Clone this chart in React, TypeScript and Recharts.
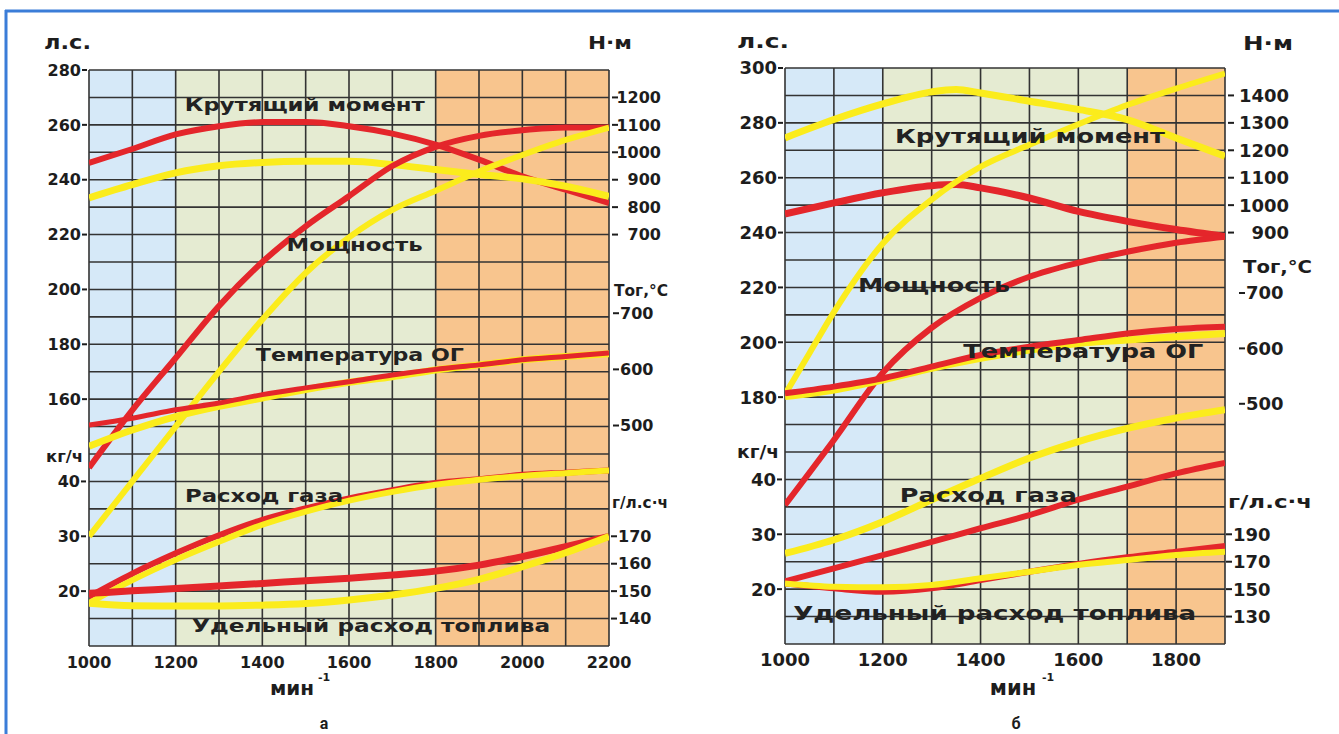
import React from "react";
import {
  LineChart,
  Line,
  XAxis,
  YAxis,
  CartesianGrid,
  ReferenceDot,
} from "recharts";

const RED = "#e4262b";
const YELLOW = "#fbec1c";
const BLUE_BAND = "#d6e9f8";
const GREEN_BAND = "#e5ebd2";
const ORANGE_BAND = "#f8c58e";
const GRID = "#333333";
const INK = "#1d1d1d";
const FRAME = "#3b7dd8";
const FONT = "'DejaVu Sans', Verdana, sans-serif";

// ---------- а: 1000–2200 мин-1 ----------
const rpmA = [1000, 1100, 1200, 1300, 1400, 1500, 1600, 1700, 1800, 1900, 2000, 2100, 2200];
const torqueRedA = [961, 1012, 1065, 1095, 1110, 1110, 1095, 1068, 1028, 973, 912, 864, 815];
const torqueYellowA = [834, 882, 925, 951, 963, 967, 967, 955, 937, 919, 903, 876, 839];
const powerRedA = [135, 156, 175, 194, 210, 223, 234, 245, 252, 256, 258, 259, 259];
const powerYellowA = [110, 130, 150, 170, 189, 206, 219, 229, 236, 243, 249, 254.5, 259];
const tempRedA = [501, 513, 528, 540, 555, 567, 578, 590, 600, 608, 617, 623, 629];
const tempYellowA = [463, 492, 516, 534, 549, 564, 577, 587, 599, 608, 617, 623, 628];
const gasRedA = [19.0, 23.2, 26.9, 30.2, 33.0, 35.1, 36.9, 38.4, 39.7, 40.4, 41.2, 41.6, 42.0];
const gasYellowA = [17.8, 22.0, 25.7, 29.0, 32.1, 34.5, 36.5, 38.1, 39.4, 40.3, 41.0, 41.5, 42.0];
const sfcRedA = [149.2, 150.1, 151, 151.9, 152.8, 153.8, 154.7, 155.9, 157.3, 159.5, 162.6, 166.2, 169.9];
const sfcYellowA = [145.6, 144.7, 144.6, 144.6, 144.9, 145.5, 146.8, 148.6, 151, 154.3, 158.9, 164, 169.9];

const gridHpA = [70, 80, 90, 100, 110, 120, 130, 140, 150, 160, 170, 180, 190, 200, 210, 220, 230, 240, 250, 260, 270, 280];
const hpLabelsA = [160, 180, 200, 220, 240, 260, 280];
const kgLabelsA = [20, 30, 40];
const nmLabelsA = [700, 800, 900, 1000, 1100, 1200];
const tLabelsA = [500, 600, 700];
const gLabelsA = [140, 150, 160, 170];
const xTicksA = [1000, 1100, 1200, 1300, 1400, 1500, 1600, 1700, 1800, 1900, 2000, 2100, 2200];
const xLabelsA = [1000, 1200, 1400, 1600, 1800, 2000, 2200];
const bandsA = [BLUE_BAND, BLUE_BAND, GREEN_BAND, GREEN_BAND, GREEN_BAND, GREEN_BAND, GREEN_BAND, GREEN_BAND, ORANGE_BAND, ORANGE_BAND, ORANGE_BAND, ORANGE_BAND];

// ---------- б: 1000–1900 мин-1 ----------
const rpmB = [1000, 1100, 1200, 1300, 1400, 1500, 1600, 1700, 1800, 1900];
const rpmTorqueB = [1000, 1100, 1200, 1300, 1350, 1400, 1500, 1600, 1700, 1800, 1900];
const rpmPowerYellowB = [1000, 1050, 1100, 1200, 1300, 1400, 1500, 1600, 1700, 1800, 1900];
const torqueYellowB = [1245, 1312, 1369, 1413, 1422, 1409, 1379, 1349, 1312, 1245, 1178];
const torqueRedB = [968, 1008, 1045, 1071, 1075, 1063, 1026, 977, 941, 911, 886];
const powerRedB = [140.7, 164.4, 188.9, 205.3, 216.2, 223.9, 229, 233, 236.3, 238.5];
const powerYellowB = [181, 196, 211, 236, 252, 264, 272, 279.5, 286.5, 292.5, 298];
const tempRedB = [519, 531, 546, 567, 588, 603, 615, 627, 635, 639];
const tempYellowB = [513, 525, 543, 564, 582, 597, 609, 615, 621, 627];
const gasRedB = [21.4, 23.8, 26.2, 28.6, 31.1, 33.5, 36.3, 38.7, 41.1, 43.0];
const gasYellowB = [26.5, 29.0, 32.3, 36.3, 40.2, 43.9, 46.9, 49.3, 51.2, 52.7];
const sfcRedB = [154.2, 150.6, 148.1, 150.6, 156.6, 162.7, 168.3, 173.2, 177.3, 181.5];
const sfcYellowB = [154.2, 151.8, 151.3, 153, 157.9, 162.7, 167.6, 171.2, 174.9, 177.3];

const gridHpB = [90, 100, 110, 120, 130, 140, 150, 160, 170, 180, 190, 200, 210, 220, 230, 240, 250, 260, 270, 280, 290, 300];
const hpLabelsB = [180, 200, 220, 240, 260, 280, 300];
const kgLabelsB = [20, 30, 40];
const nmLabelsB = [900, 1000, 1100, 1200, 1300, 1400];
const tLabelsB = [500, 600, 700];
const gLabelsB = [130, 150, 170, 190];
const xTicksB = [1000, 1100, 1200, 1300, 1400, 1500, 1600, 1700, 1800, 1900];
const xLabelsB = [1000, 1200, 1400, 1600, 1800];
const bandsB = [BLUE_BAND, BLUE_BAND, GREEN_BAND, GREEN_BAND, GREEN_BAND, GREEN_BAND, GREEN_BAND, ORANGE_BAND, ORANGE_BAND];

const pts = (xs: number[], ys: number[]) => xs.map((rpm, i) => ({ rpm, v: ys[i] }));

const txt = (fs: number): React.CSSProperties => ({
  fontFamily: FONT,
  fontWeight: 700,
  fontSize: fs,
  fill: INK,
});

// подписи слева: "280-"
const leftTick = (labels: number[], fs: number) => (p: any) => {
  const v = p.payload.value;
  if (!labels.includes(v)) return <g />;
  return (
    <g>
      <text x={p.x - 8} y={p.y} dy="0.36em" textAnchor="end" style={txt(fs)}>
        {v}
      </text>
      <line x1={p.x - 7} x2={p.x - 2} y1={p.y} y2={p.y} stroke={INK} strokeWidth={2} />
    </g>
  );
};

// подписи справа: "-1200"
const rightTick =
  (labels: number[], fs: number, d0: number, d1: number, tx: number, anchor: "start" | "end") =>
  (p: any) => {
    const v = p.payload.value;
    if (!labels.includes(v)) return <g />;
    return (
      <g>
        <line x1={p.x + d0} x2={p.x + d1} y1={p.y} y2={p.y} stroke={INK} strokeWidth={2} />
        <text x={p.x + tx} y={p.y} dy="0.36em" textAnchor={anchor} style={txt(fs)}>
          {v}
        </text>
      </g>
    );
  };

const bottomTick = (labels: number[], fs: number) => (p: any) => {
  const v = p.payload.value;
  if (!labels.includes(v)) return <g />;
  return (
    <text x={p.x} y={p.y + 16} dy="0.36em" textAnchor="middle" style={txt(fs)}>
      {v}
    </text>
  );
};

const anno = (text: string, len: number, fs: number) => (p: any) => {
  const vb = p.viewBox || {};
  return (
    <text
      x={vb.x}
      y={vb.y}
      dy="0.36em"
      textAnchor="middle"
      textLength={len}
      lengthAdjust="spacingAndGlyphs"
      style={{ ...txt(fs), fill: "#222" }}
    >
      {text}
    </text>
  );
};

type Series = { data: { rpm: number; v: number }[]; axis: string; color: string; width: number };
type Note = { text: string; rpm: number; hp: number; len: number };

type PanelCfg = {
  width: number;
  height: number;
  margin: { top: number; right: number; bottom: number; left: number };
  xDomain: [number, number];
  xTicks: number[];
  xLabels: number[];
  bands: string[];
  hpDomain: [number, number];
  gridHp: number[];
  hpLabels: number[];
  kgDomain: [number, number];
  kgLabels: number[];
  nmDomain: [number, number];
  nmLabels: number[];
  nmTextX: number;
  tDomain: [number, number];
  tLabels: number[];
  tDash: [number, number, number];
  gDomain: [number, number];
  gLabels: number[];
  gDash: [number, number, number];
  fs: number;
  noteFs: number;
  series: Series[];
  notes: Note[];
};

// each axis reserves 1px: two on the left, three on the right, one below
const panelA: PanelCfg = {
  width: 680,
  height: 734,
  margin: { top: 70, right: 68, bottom: 87, left: 87 },
  xDomain: [1000, 2200],
  xTicks: xTicksA,
  xLabels: xLabelsA,
  bands: bandsA,
  hpDomain: [70, 280],
  gridHp: gridHpA,
  hpLabels: hpLabelsA,
  kgDomain: [10, 115],
  kgLabels: kgLabelsA,
  nmDomain: [-800, 1300],
  nmLabels: nmLabelsA,
  nmTextX: 51,
  tDomain: [107.3, 1133.2],
  tLabels: tLabelsA,
  tDash: [2, 8, 9],
  gDomain: [130, 340],
  gLabels: gLabelsA,
  gDash: [2, 8, 9],
  fs: 16,
  noteFs: 18,
  series: [
    { data: pts(rpmA, torqueRedA), axis: "nm", color: RED, width: 6 },
    { data: pts(rpmA, torqueYellowA), axis: "nm", color: YELLOW, width: 7 },
    { data: pts(rpmA, powerRedA), axis: "hp", color: RED, width: 6 },
    { data: pts(rpmA, powerYellowA), axis: "hp", color: YELLOW, width: 6 },
    { data: pts(rpmA, gasRedA), axis: "kg", color: RED, width: 6 },
    { data: pts(rpmA, gasYellowA), axis: "kg", color: YELLOW, width: 6 },
    { data: pts(rpmA, sfcRedA), axis: "g", color: RED, width: 7 },
    { data: pts(rpmA, sfcYellowA), axis: "g", color: YELLOW, width: 7 },
    { data: pts(rpmA, tempYellowA), axis: "t", color: YELLOW, width: 7 },
    { data: pts(rpmA, tempRedA), axis: "t", color: RED, width: 5 },
  ],
  notes: [
    { text: "Крутящий момент", rpm: 1498, hp: 267.4, len: 240 },
    { text: "Мощность", rpm: 1613, hp: 216.3, len: 136 },
    { text: "Температура ОГ", rpm: 1625, hp: 176.2, len: 208 },
    { text: "Расход газа", rpm: 1404, hp: 125, len: 158 },
    { text: "Удельный расход топлива", rpm: 1651, hp: 77.3, len: 358 },
  ],
};

const panelB: PanelCfg = {
  width: 659,
  height: 734,
  margin: { top: 68, right: 111, bottom: 89, left: 103 },
  xDomain: [1000, 1900],
  xTicks: xTicksB,
  xLabels: xLabelsB,
  bands: bandsB,
  hpDomain: [90, 300],
  gridHp: gridHpB,
  hpLabels: hpLabelsB,
  kgDomain: [10, 115],
  kgLabels: kgLabelsB,
  nmDomain: [-600, 1500],
  nmLabels: nmLabelsB,
  nmTextX: 63,
  tDomain: [66.4, 1106.1],
  tLabels: tLabelsB,
  tDash: [12, 18, 19],
  gDomain: [110, 530],
  gLabels: gLabelsB,
  gDash: [1, 7, 8],
  fs: 18,
  noteFs: 19,
  series: [
    { data: pts(rpmTorqueB, torqueRedB), axis: "nm", color: RED, width: 7 },
    { data: pts(rpmTorqueB, torqueYellowB), axis: "nm", color: YELLOW, width: 7 },
    { data: pts(rpmB, powerRedB), axis: "hp", color: RED, width: 6 },
    { data: pts(rpmPowerYellowB, powerYellowB), axis: "hp", color: YELLOW, width: 6 },
    { data: pts(rpmB, gasYellowB), axis: "kg", color: YELLOW, width: 7 },
    { data: pts(rpmB, gasRedB), axis: "kg", color: RED, width: 6 },
    { data: pts(rpmB, sfcRedB), axis: "g", color: RED, width: 6 },
    { data: pts(rpmB, sfcYellowB), axis: "g", color: YELLOW, width: 6 },
    { data: pts(rpmB, tempYellowB), axis: "t", color: YELLOW, width: 7 },
    { data: pts(rpmB, tempRedB), axis: "t", color: RED, width: 6 },
  ],
  notes: [
    { text: "Крутящий момент", rpm: 1501, hp: 275, len: 270 },
    { text: "Мощность", rpm: 1305, hp: 221, len: 152 },
    { text: "Температура ОГ", rpm: 1610, hp: 196.7, len: 240 },
    { text: "Расход газа", rpm: 1416, hp: 144.3, len: 177 },
    { text: "Удельный расход топлива", rpm: 1429, hp: 101.2, len: 403 },
  ],
};

function Panel({ cfg }: { cfg: PanelCfg }) {
  const axisCommon = {
    width: 1,
    tickSize: 0,
    tickMargin: 0,
    axisLine: false,
    tickLine: false,
    allowDataOverflow: true,
    type: "number" as const,
    interval: 0 as const,
  };
  return (
    <LineChart width={cfg.width} height={cfg.height} margin={cfg.margin}>
      <CartesianGrid
        yAxisId="hp"
        stroke={GRID}
        strokeWidth={1.6}
        verticalFill={cfg.bands}
        fillOpacity={1}
      />
      <XAxis
        dataKey="rpm"
        type="number"
        domain={cfg.xDomain}
        ticks={cfg.xTicks}
        interval={0}
        height={1}
        tickSize={0}
        tickMargin={0}
        axisLine={false}
        tickLine={false}
        allowDataOverflow
        tick={bottomTick(cfg.xLabels, cfg.fs)}
      />
      <YAxis yAxisId="hp" orientation="left" domain={cfg.hpDomain} ticks={cfg.gridHp} tick={leftTick(cfg.hpLabels, cfg.fs)} {...axisCommon} />
      <YAxis yAxisId="kg" orientation="left" domain={cfg.kgDomain} ticks={cfg.kgLabels} tick={leftTick(cfg.kgLabels, cfg.fs)} {...axisCommon} />
      <YAxis
        yAxisId="nm"
        orientation="right"
        domain={cfg.nmDomain}
        ticks={cfg.nmLabels}
        tick={rightTick(cfg.nmLabels, cfg.fs, 2, 8, cfg.nmTextX, "end")}
        {...axisCommon}
      />
      <YAxis
        yAxisId="t"
        orientation="right"
        domain={cfg.tDomain}
        ticks={cfg.tLabels}
        tick={rightTick(cfg.tLabels, cfg.fs, cfg.tDash[0], cfg.tDash[1], cfg.tDash[2], "start")}
        {...axisCommon}
      />
      <YAxis
        yAxisId="g"
        orientation="right"
        domain={cfg.gDomain}
        ticks={cfg.gLabels}
        tick={rightTick(cfg.gLabels, cfg.fs, cfg.gDash[0], cfg.gDash[1], cfg.gDash[2], "start")}
        {...axisCommon}
      />
      {cfg.series.map((s, i) => (
        <Line
          key={i}
          data={s.data}
          dataKey="v"
          yAxisId={s.axis}
          type="monotone"
          stroke={s.color}
          strokeWidth={s.width}
          dot={false}
          activeDot={false}
          isAnimationActive={false}
        />
      ))}
      {cfg.notes.map((n) => (
        <ReferenceDot
          key={n.text}
          x={n.rpm}
          y={n.hp}
          yAxisId="hp"
          r={0}
          fill="none"
          stroke="none"
          label={anno(n.text, n.len, cfg.noteFs)}
        />
      ))}
    </LineChart>
  );
}

function Caption({ x, y, size, len, children, anchor = "start" }: any) {
  return (
    <text
      x={x}
      y={y}
      textAnchor={anchor}
      textLength={len}
      lengthAdjust={len ? "spacingAndGlyphs" : undefined}
      style={txt(size)}
    >
      {children}
    </text>
  );
}

const captionStyle: React.CSSProperties = {
  fontFamily: "'Liberation Sans Narrow', Roboto, sans-serif",
  fontWeight: 700,
  fontSize: 16,
  fill: INK,
};

export default function App() {
  return (
    <div style={{ position: "relative", width: 1339, height: 734, background: "#fff", overflow: "hidden" }}>
      <style>{"body{margin:0}"}</style>
      <div style={{ position: "absolute", left: 0, top: 0 }}>
        <Panel cfg={panelA} />
      </div>
      <div style={{ position: "absolute", left: 680, top: 0 }}>
        <Panel cfg={panelB} />
      </div>
      <svg
        width={1339}
        height={734}
        style={{ position: "absolute", left: 0, top: 0, pointerEvents: "none" }}
      >
        <line x1={5} x2={1339} y1={11} y2={11} stroke={FRAME} strokeWidth={3} />
        <line x1={6} x2={6} y1={10} y2={734} stroke={FRAME} strokeWidth={3} />

        {/* а */}
        <Caption x={44} y={49} size={20} len={47}>л.с.</Caption>
        <Caption x={588} y={49} size={18} len={44}>Н·м</Caption>
        <Caption x={46} y={462} size={16} len={37}>кг/ч</Caption>
        <Caption x={614} y={296} size={16} len={54}>Тог,°С</Caption>
        <Caption x={612} y={508} size={16} len={56}>г/л.с·ч</Caption>
        <Caption x={292} y={695} size={20} anchor="middle">мин</Caption>
        <Caption x={318} y={681} size={11}>-1</Caption>

        {/* б */}
        <Caption x={737} y={48} size={20} len={52}>л.с.</Caption>
        <Caption x={1243} y={50} size={19} len={50}>Н·м</Caption>
        <Caption x={737} y={458} size={17} len={42}>кг/ч</Caption>
        <Caption x={1243} y={273} size={18} len={69}>Тог,°С</Caption>
        <Caption x={1228} y={508} size={18} len={84}>г/л.с·ч</Caption>
        <Caption x={1013} y={695} size={21} anchor="middle">мин</Caption>
        <Caption x={1042} y={681} size={11}>-1</Caption>

        <text x={324} y={729} textAnchor="middle" style={captionStyle}>
          а
        </text>
        <text x={1016} y={729} textAnchor="middle" style={captionStyle}>
          б
        </text>
      </svg>
    </div>
  );
}
